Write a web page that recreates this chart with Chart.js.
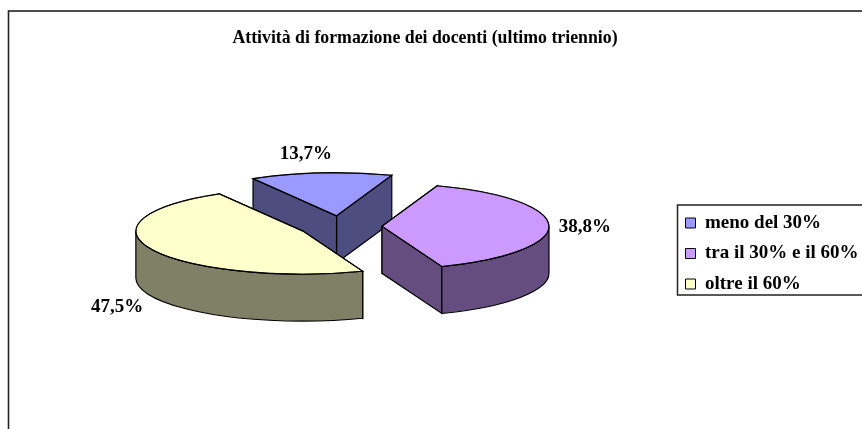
<!DOCTYPE html>
<html><head><meta charset="utf-8">
<style>html,body{margin:0;padding:0;background:#fff;overflow:hidden}canvas{display:block}</style>
<script src="https://cdn.jsdelivr.net/npm/chart.js@4"></script>
</head><body><canvas id="c" width="862" height="429"></canvas>
<script>
const titleText = "Attività di formazione dei docenti (ultimo triennio)";
const categories = ["meno del 30%", "tra il 30% e il 60%", "oltre il 60%"];
const shares = [13.7, 38.8, 47.5];
const topColors = ["#9999FF", "#CC99FF", "#FFFFCC"];
const wallColors = ["#4D4D80", "#664D80", "#808066"];
const labelNudges = [[-15, -18.5], [36, 1.5], [-35, 57.5]];

const SERIF = "'Liberation Serif','Times New Roman',serif";
const center = {x: 340.4, y: 226.5};
const SQUASH = 43 / 167, DEPTH = 47, EXPLODE = 41.6;

function sliceCenter(el) {
  const m = (el.startAngle + el.endAngle) / 2;
  return {x: center.x + Math.cos(m) * EXPLODE, y: center.y + Math.sin(m) * EXPLODE * SQUASH};
}
function ellPoint(c, r, a) {
  return {x: c.x + Math.cos(a) * r, y: c.y + Math.sin(a) * r * SQUASH};
}
function face(ctx, color, build) {
  ctx.beginPath(); build(); ctx.closePath();
  ctx.fillStyle = color; ctx.fill();
  ctx.strokeStyle = "#000"; ctx.lineWidth = 1.2; ctx.stroke();
}

const pie3d = {
  id: "pie3d",
  afterLayout(chart) {
    const lg = chart.legend;
    lg.left = 674; lg.right = 869; lg.width = 195;
    lg.top = 202; lg.bottom = 400; lg.height = 198;
    const t = chart.titleBlock;
    t.left = 0; t.right = 850; t.width = 850;
    t.top = 28; t.bottom = 50;
  },
  beforeDraw(chart) {
    const ctx = chart.ctx;
    ctx.save();
    ctx.strokeStyle = "#222"; ctx.lineWidth = 1.6;
    ctx.strokeRect(8.5, 11, 900, 500);
    ctx.lineWidth = 1.5; ctx.strokeStyle = "#222";
    ctx.fillStyle = "#fff";
    ctx.fillRect(677, 205, 200, 90);
    ctx.strokeRect(677.5, 205, 200, 90);
    ctx.restore();
  },
  beforeDatasetDraw(chart, args) {
    const ctx = chart.ctx;
    const arcs = args.meta.data;
    arcs.forEach((el, i) => {
      const c = sliceCenter(el), r = el.outerRadius, a0 = el.startAngle, a1 = el.endAngle;
      const p0 = ellPoint(c, r, a0), p1 = ellPoint(c, r, a1);
      const radial = [p0, p1].sort((p, q) => p.y - q.y);
      ctx.save();
      radial.forEach(p => face(ctx, wallColors[i], () => {
        ctx.moveTo(c.x, c.y); ctx.lineTo(p.x, p.y);
        ctx.lineTo(p.x, p.y + DEPTH); ctx.lineTo(c.x, c.y + DEPTH);
      }));
      const lo = Math.max(a0, 0), hi = Math.min(a1, Math.PI);
      if (hi > lo) {
        face(ctx, wallColors[i], () => {
          ctx.ellipse(c.x, c.y, r, r * SQUASH, 0, lo, hi);
          ctx.ellipse(c.x, c.y + DEPTH, r, r * SQUASH, 0, hi, lo, true);
        });
      }
      // top face: the library's own arc element, squashed and moved into place
      ctx.save();
      ctx.translate(c.x, c.y);
      ctx.scale(1, SQUASH);
      ctx.translate(-el.x, -el.y);
      el.draw(ctx);
      ctx.restore();
      ctx.beginPath();
      ctx.moveTo(c.x, c.y);
      ctx.ellipse(c.x, c.y, r, r * SQUASH, 0, a0, a1);
      ctx.closePath();
      ctx.strokeStyle = "#000"; ctx.lineWidth = 1.2; ctx.stroke();
      ctx.restore();
    });
    return false;
  },
  afterDatasetsDraw(chart) {
    const ctx = chart.ctx;
    const arcs = chart.getDatasetMeta(0).data;
    ctx.save();
    ctx.font = "bold 19px " + SERIF;
    ctx.fillStyle = "#000"; ctx.textAlign = "center"; ctx.textBaseline = "middle";
    arcs.forEach((el, i) => {
      const m = (el.startAngle + el.endAngle) / 2;
      const p = ellPoint(sliceCenter(el), el.outerRadius, m);
      ctx.fillText(shares[i].toFixed(1).replace(".", ",") + "%", p.x + labelNudges[i][0], p.y + labelNudges[i][1]);
    });
    ctx.restore();
  }
};

new Chart(document.getElementById("c"), {
  type: "pie",
  data: {labels: categories, datasets: [{
    data: shares, backgroundColor: topColors,
    borderColor: "#000", borderWidth: 1, radius: 167
  }]},
  options: {
    responsive: false, animation: false, rotation: -30,
    plugins: {
      tooltip: {enabled: false},
      title: {display: true, text: titleText, color: "#000",
        font: {family: SERIF, size: 17.8, weight: "bold"}, padding: 0},
      legend: {position: "right", align: "start",
        labels: {boxWidth: 10, boxHeight: 10, color: "#000", padding: 11.5,
          font: {family: SERIF, size: 19, weight: "bold"}}}
    }
  },
  plugins: [pie3d]
});
</script></body></html>
